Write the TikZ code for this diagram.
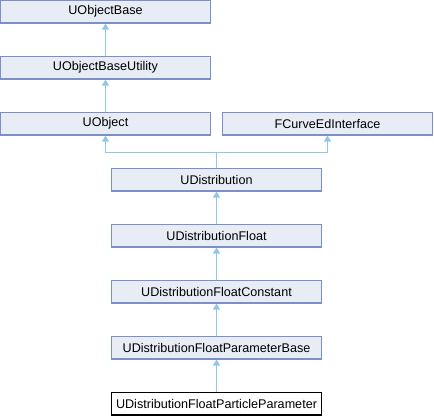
\documentclass[tikz,border=0pt]{standalone}
\usepackage{fontspec}
\setmainfont{Liberation Sans}
\usetikzlibrary{arrows.meta}
\definecolor{boxfill}{HTML}{E8ECF4}
\definecolor{boxline}{HTML}{7D8FC8}
\definecolor{arrowc}{HTML}{92C7E6}
\tikzset{
  cls/.style={draw=boxline, fill=boxfill, line width=1.2pt, minimum width=210pt, minimum height=22.5pt, inner sep=0pt, font=\fontsize{12.6pt}{14pt}\selectfont},
  cur/.style={draw=black, fill=white, line width=1.2pt, minimum width=210pt, minimum height=22.5pt, inner sep=0pt, font=\fontsize{12.6pt}{14pt}\selectfont},
  inh/.style={draw=arrowc, line width=1.3pt, -{Triangle[width=7pt,length=6pt]}}
}
\begin{document}
\begin{tikzpicture}[x=1pt,y=-1pt]
\useasboundingbox (0,0) rectangle (434,416);
\node[cls] (ob)   at (105.5,11.7) {UObjectBase};
\node[cls] (obu)  at (105.5,67.7) {UObjectBaseUtility};
\node[cls] (uo)   at (105.5,123.7) {UObject};
\node[cls] (fc)   at (327.5,123.7) {FCurveEdInterface};
\node[cls] (ud)   at (216.5,179.7) {UDistribution};
\node[cls] (udf)  at (216.5,235.7) {UDistributionFloat};
\node[cls] (udfc) at (216.5,291.7) {UDistributionFloatConstant};
\node[cls] (udpb) at (216.5,347.7) {UDistributionFloatParameterBase};
\node[cur] (udpp) at (216.5,403.7) {UDistributionFloatParticleParameter};
\coordinate (j) at (216.5,152.5);
\draw[inh] (obu.north) -- (ob.south);
\draw[inh] (uo.north) -- (obu.south);
\draw[draw=arrowc, line width=1.3pt] (ud.north) -- (j);
\draw[inh] (j) -| (uo.south);
\draw[inh] (j) -| (fc.south);
\draw[inh] (udf.north) -- (ud.south);
\draw[inh] (udfc.north) -- (udf.south);
\draw[inh] (udpb.north) -- (udfc.south);
\draw[inh] (udpp.north) -- (udpb.south);
\end{tikzpicture}
\end{document}
